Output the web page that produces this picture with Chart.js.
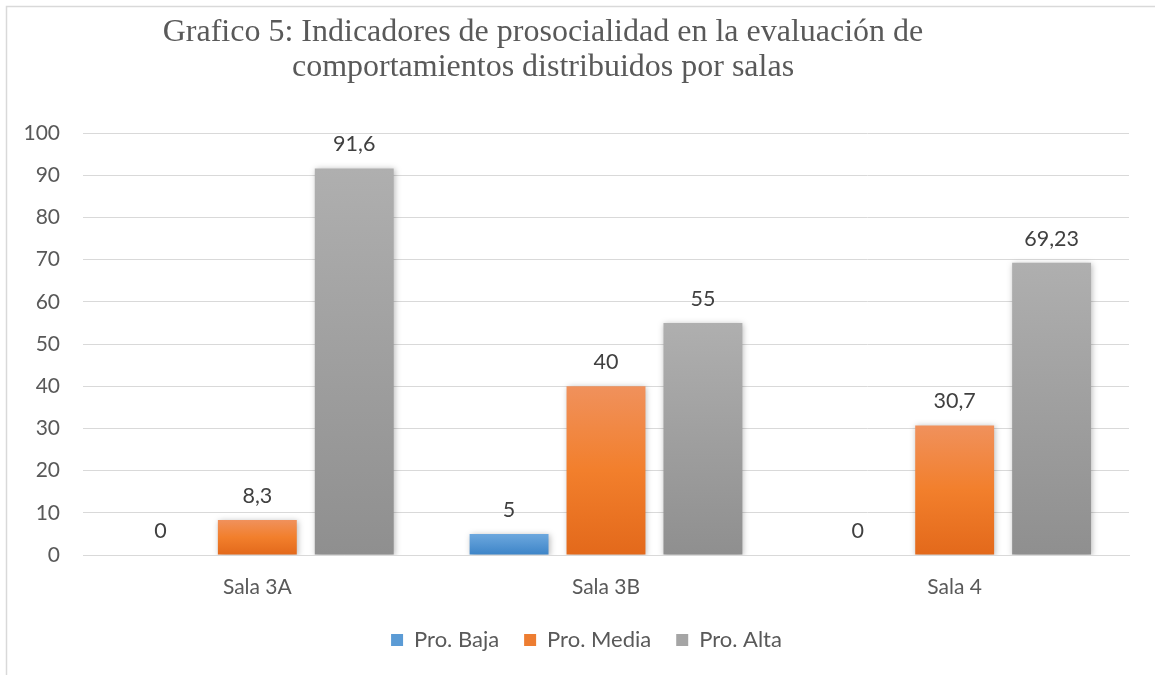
<!DOCTYPE html>
<html><head><meta charset="utf-8">
<script src="https://cdn.jsdelivr.net/npm/chart.js@4.4.1/dist/chart.umd.min.js"></script>
<style>html,body{margin:0;padding:0;background:#fff}#wrap{width:1155px;height:675px;position:relative}</style>
</head><body><div id="wrap"><canvas id="c" width="1155" height="675"></canvas></div>
<script>
const categories = ['Sala 3A', 'Sala 3B', 'Sala 4'];
const seriesNames = ['Pro. Baja', 'Pro. Media', 'Pro. Alta'];
const proBaja = [0, 5, 0];
const proMedia = [8.3, 40, 30.7];
const proAlta = [91.6, 55, 69.23];
const yTickValues = [0, 10, 20, 30, 40, 50, 60, 70, 80, 90, 100];
const titleLines = ['Grafico 5: Indicadores de prosocialidad en la evaluación de', 'comportamientos distribuidos por salas'];

const solidColors = ['#5B9BD5', '#ED7D31', '#A5A5A5'];
const gradStops = [['#6DA8DE', '#3E85C8'], ['#F0915C', '#F27F2C', '#E3691B'], ['#AFAFAF', '#8F8F8F']];
const FONT = 'Lato, "Open Sans", sans-serif';

const framePlugin = {
  id: 'frame',
  afterLayout(chart) {
    if (chart.legend) { chart.legend.left += 22; chart.legend.right += 22; }
  },
  beforeDraw(chart) {
    const ctx = chart.ctx;
    ctx.save();
    ctx.strokeStyle = '#D9D9D9';
    ctx.lineWidth = 1.5;
    ctx.strokeRect(6.5, 6.5, 1300, 800);
    ctx.fillStyle = '#595959';
    ctx.font = '32px "Liberation Serif", "Times New Roman", serif';
    ctx.textAlign = 'center';
    ctx.textBaseline = 'alphabetic';
    ctx.fillText(titleLines[0], 543, 41);
    ctx.fillText(titleLines[1], 543, 76);
    ctx.restore();
  },
  beforeDatasetsDraw(chart) {
    const ctx = chart.ctx;
    chart.data.datasets.forEach((ds, di) => {
      const meta = chart.getDatasetMeta(di);
      meta.data.forEach(el => {
        const top = Math.min(el.y, el.base), bot = Math.max(el.y, el.base);
        const g = ctx.createLinearGradient(0, top, 0, bot === top ? top + 1 : bot);
        const st = gradStops[di];
        st.forEach((c, i) => g.addColorStop(i / (st.length - 1), c));
        el.options = Object.assign({}, el.options, {backgroundColor: g});
      });
    });
    ctx.save();
    ctx.shadowColor = 'rgba(0,0,0,0.28)';
    ctx.shadowBlur = 6;
    ctx.shadowOffsetX = 1;
    ctx.shadowOffsetY = 1;
  },
  afterDatasetsDraw(chart) {
    const ctx = chart.ctx;
    ctx.restore();
    ctx.save();
    ctx.fillStyle = '#404040';
    ctx.font = '21.5px ' + FONT;
    ctx.textAlign = 'center';
    ctx.textBaseline = 'middle';
    chart.data.datasets.forEach((ds, di) => {
      const meta = chart.getDatasetMeta(di);
      meta.data.forEach((el, i) => {
        const v = ds.data[i];
        ctx.fillText(String(v).replace('.', ','), el.x, el.y - 24);
      });
    });
    ctx.restore();
  }
};

new Chart(document.getElementById('c'), {
  type: 'bar',
  data: {
    labels: categories,
    datasets: [
      {label: seriesNames[0], data: proBaja, backgroundColor: solidColors[0]},
      {label: seriesNames[1], data: proMedia, backgroundColor: solidColors[1]},
      {label: seriesNames[2], data: proAlta, backgroundColor: solidColors[2]}
    ]
  },
  options: {
    responsive: false,
    animation: false,
    devicePixelRatio: 1,
    categoryPercentage: 0.834,
    barPercentage: 0.814,
    layout: {padding: {top: 133, right: 26, left: 0, bottom: 14}},
    plugins: {
      title: {display: false},
      tooltip: {enabled: false},
      legend: {
        position: 'bottom',
        labels: {
          boxWidth: 12, boxHeight: 12, padding: 25,
          color: '#595959',
          font: {family: FONT, size: 22}
        }
      }
    },
    scales: {
      x: {
        afterFit(s) { s.height = 49; },
        grid: {display: false, drawTicks: false},
        border: {display: true, color: '#D9D9D9', width: 1},
        ticks: {color: '#595959', font: {family: FONT, size: 21}, padding: 20}
      },
      y: {
        min: 0, max: 100,
        afterFit(s) { s.width = 83; },
        afterBuildTicks(s) { s.ticks = yTickValues.map(v => ({value: v})); },
        grid: {color: '#D9D9D9', lineWidth: 1, drawTicks: false},
        border: {display: false},
        ticks: {color: '#595959', font: {family: FONT, size: 21}, padding: 23}
      }
    }
  },
  plugins: [framePlugin]
});
</script>
</body></html>
